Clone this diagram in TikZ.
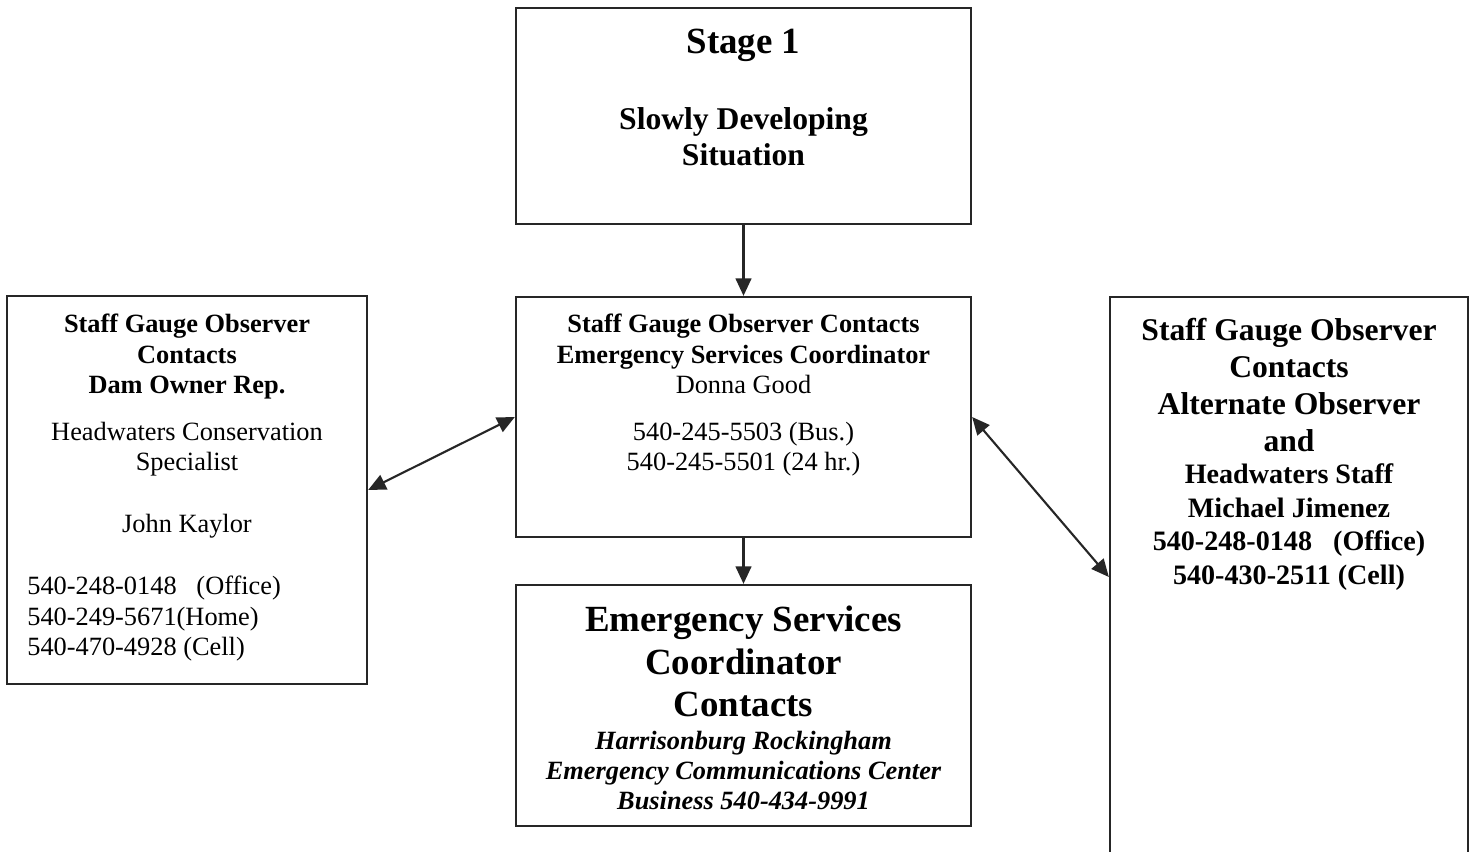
\documentclass[tikz,border=0pt]{standalone}
\usepackage{fontspec}
\setmainfont{Liberation Serif}
\usetikzlibrary{arrows.meta}

\begin{document}
\begin{tikzpicture}[
    box/.style={draw=black!85, line width=1.3pt, inner sep=0pt},
    txt/.style={anchor=north, align=center, inner sep=0pt},
    link/.style={draw=black!85, line width=1.2pt, -{Triangle[length=10pt, width=9pt]}},
    duallink/.style={draw=black!85, line width=1.2pt, {Triangle[length=10pt, width=9pt]}-{Triangle[length=10pt, width=9pt]}}]
  \useasboundingbox (0,0) rectangle (29.5,-17.04);

  % boxes
  \node[box, minimum width=9.1cm, minimum height=4.32cm] (stage) at (14.87,-2.32) {};
  \node[box, minimum width=9.1cm, minimum height=4.8cm] (esc) at (14.87,-8.34) {};
  \node[box, minimum width=9.1cm, minimum height=4.82cm] (escc) at (14.87,-14.11) {};
  \node[box, minimum width=7.2cm, minimum height=7.76cm] (damrep) at (3.74,-9.8) {};
  \node[box, minimum width=7.16cm, minimum height=11.2cm] (altobs) at (25.78,-11.54) {};

  % texts
  \node[txt, font=\fontsize{21}{24}\selectfont\bfseries] (stagetitle) at (14.87,-0.58) {Stage 1};
  \node[txt, font=\fontsize{18}{20.8}\selectfont\bfseries] (stagebody) at (14.87,-2.14) {Slowly Developing\\Situation};

  \node[txt, font=\fontsize{15}{17.3}\selectfont] (esctxt) at (14.87,-6.28)
    {\textbf{Staff Gauge Observer Contacts}\\ \textbf{Emergency Services Coordinator}\\ Donna Good\\[9.3pt]
     540-245-5503 (Bus.)\\ 540-245-5501 (24 hr.)};

  \node[txt, font=\fontsize{21}{24}\selectfont\bfseries] (escctitle) at (14.87,-12.12)
    {Emergency Services\\Coordinator\\Contacts};
  \node[txt, font=\fontsize{15}{17}\selectfont\bfseries\itshape] (escctxt) at (14.87,-14.62)
    {Harrisonburg Rockingham\\Emergency Communications Center\\Business 540-434-9991};

  \node[txt, font=\fontsize{15}{17.3}\selectfont] (damreptxt) at (3.74,-6.28)
    {\textbf{Staff Gauge Observer}\\ \textbf{Contacts}\\ \textbf{Dam Owner Rep.}\\[9.3pt]
     Headwaters Conservation\\ Specialist\\[17.7pt] John Kaylor};
  \node[txt, anchor=north west, align=left, font=\fontsize{15}{17.3}\selectfont] (damrepphone) at (0.54,-11.52)
    {540-248-0148\ \ \ (Office)\\ 540-249-5671(Home)\\ 540-470-4928 (Cell)};

  \node[txt, font=\fontsize{18}{21}\selectfont\bfseries] (altobstitle) at (25.78,-6.36)
    {Staff Gauge Observer\\Contacts\\Alternate Observer\\and};
  \node[txt, font=\fontsize{16}{19.3}\selectfont\bfseries] (altobstxt) at (25.78,-9.26)
    {Headwaters Staff\\Michael Jimenez\\540-248-0148\ \ \ (Office)\\540-430-2511 (Cell)};

  % connectors
  \draw[link] (stage.south) -- (esc.north);
  \draw[link] (esc.south) -- (escc.north);
  \draw[duallink] (damrep.east) -- (esc.west);
  \draw[duallink] (esc.east) -- (altobs.west);
\end{tikzpicture}
\end{document}
